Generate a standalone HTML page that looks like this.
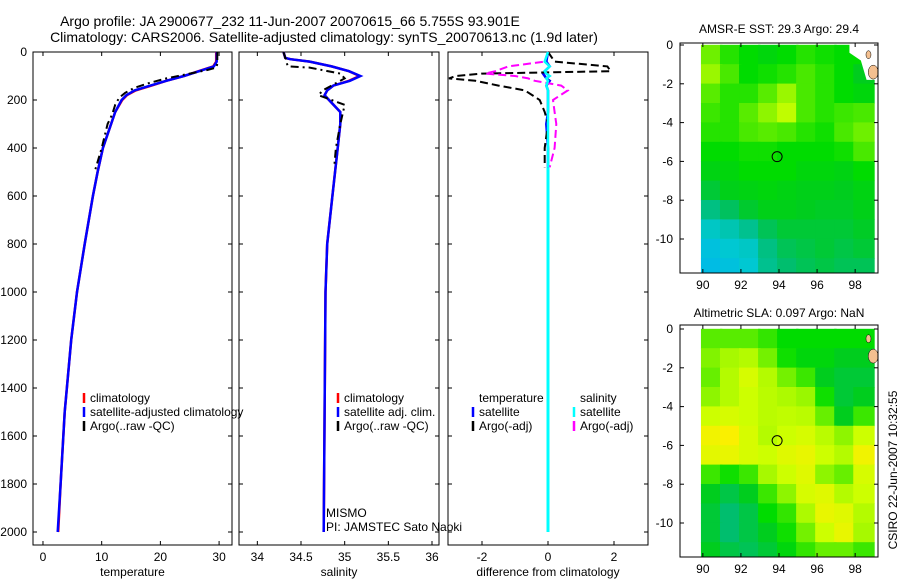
<!DOCTYPE html>
<html><head><meta charset="utf-8"><style>
body{margin:0;background:#fff}
svg{display:block;font-family:"Liberation Sans",sans-serif}
</style></head><body>
<svg id="c" width="900" height="580" viewBox="0 0 900 580" xmlns="http://www.w3.org/2000/svg">
<text x="290" y="26" font-size="14" text-anchor="middle">Argo profile: JA 2900677_232 11-Jun-2007 20070615_66 5.755S 93.901E</text>
<text x="324" y="42" font-size="14" text-anchor="middle">Climatology: CARS2006. Satellite-adjusted climatology: synTS_20070613.nc (1.9d later)</text>
<text x="779" y="33" font-size="12" text-anchor="middle">AMSR-E SST: 29.3 Argo: 29.4</text>
<text x="779" y="317" font-size="12" text-anchor="middle">Altimetric SLA: 0.097 Argo: NaN</text>
<text transform="translate(897,470) rotate(-90)" font-size="12" text-anchor="middle">CSIRO 22-Jun-2007 10:32:55</text>
<g id="g"></g>
</svg>
<script>
// ---- data ----
const tDepth=[0,40,60,80,100,120,140,160,180,200,250,300,400,500,600,800,1000,1200,1500,1800,2000];
const tClim=[29.5,29.5,29.0,26.5,24,21,18.5,15.8,14.3,13.5,12.3,11.6,10.2,9.3,8.5,7.1,5.8,4.8,3.7,3.0,2.6];
const tSat=[29.6,29.6,29.1,26.6,24,21,18.3,15.6,14.2,13.4,12.3,11.6,10.2,9.3,8.5,7.1,5.8,4.8,3.7,3.0,2.5];
const aDepth=[0,50,65,75,90,110,130,150,170,190,220,260,300,400,500];
const tArgo=[29.7,29.7,29.5,28,25,21,18,15.5,14,13,12.3,11.8,11,10,8.8];
const sDepth=[0,25,30,40,60,80,100,120,140,160,180,200,250,300,400,600,800,1000,1500,2000];
const sClim=[34.3,34.32,34.38,34.6,34.85,35.05,35.17,35.05,34.87,34.8,34.77,34.82,34.95,34.95,34.92,34.86,34.8,34.78,34.77,34.76];
const sSat=[34.3,34.32,34.38,34.6,34.85,35.05,35.18,35.06,34.87,34.8,34.77,34.82,34.95,34.95,34.92,34.86,34.8,34.78,34.77,34.76];
const sArgo=[34.3,34.32,34.33,34.33,34.35,34.6,34.95,35.0,34.9,34.75,34.7,34.85,35.0,34.95,34.9,34.88,34.88,34.88,34.88,34.88];
const sArgoDepth=[0,25,30,40,60,65,90,110,130,160,180,200,220,300,400,480,480,480,480,480];
const dDepth=[0,40,60,80,90,100,110,120,140,160,200,250,300,400,480];
const dTsat=[0,-0.05,0.05,-0.1,-0.15,-0.1,-0.05,0.05,-0.05,0,0,0,-0.05,0,0];
const dTargo=[0,0.2,1.8,1.9,-2.0,-2.8,-3.0,-2.2,-1.5,-0.7,-0.25,-0.1,0,-0.1,-0.1];
const dSsat=[0,-0.1,0.05,-0.1,-0.05,0.05,-0.05,0,-0.05,0,0,0,0,0,0];
const dSargo=[0,-0.1,-1.2,-1.6,-1.9,-1.0,-0.6,-0.4,0.4,0.6,0.15,0.2,0.25,0.2,0.05];
const sstGrid=[
[.65,.55,.5,.48,.5,.55,.52,.5,.5],[.72,.6,.5,.52,.55,.6,.55,.5,.45],[.62,.55,.55,.62,.72,.6,.55,.5,.48],
[.58,.55,.62,.7,.78,.6,.55,.58,.6],[.55,.55,.6,.62,.6,.55,.52,.6,.65],[.5,.5,.52,.52,.5,.5,.5,.52,.6],
[.47,.48,.5,.5,.5,.48,.48,.47,.5],[.42,.46,.47,.48,.47,.46,.46,.45,.47],[.32,.37,.43,.46,.46,.45,.44,.44,.46],
[.22,.25,.3,.38,.42,.42,.42,.42,.44],[.15,.2,.22,.32,.38,.4,.42,.4,.42],[.12,.15,.2,.3,.35,.38,.4,.38,.38]];
const slaGrid=[
[.62,.62,.62,.57,.5,.5,.5,.5,.5],[.68,.74,.76,.66,.52,.48,.48,.45,.45],[.64,.76,.82,.76,.66,.58,.45,.42,.42],
[.7,.76,.8,.77,.75,.72,.52,.42,.45],[.8,.82,.8,.77,.78,.77,.64,.45,.58],[.88,.9,.82,.76,.8,.82,.77,.7,.8],
[.85,.86,.82,.8,.84,.86,.8,.76,.88],[.58,.52,.58,.74,.8,.84,.7,.64,.82],[.45,.4,.45,.58,.7,.82,.84,.76,.8],
[.42,.35,.4,.5,.57,.75,.86,.84,.76],[.42,.35,.4,.45,.52,.66,.8,.86,.74],[.45,.4,.38,.42,.48,.57,.64,.64,.58]];
const floatLon=93.901, floatLat=-5.755;
// ---- drawing ----
const NS='http://www.w3.org/2000/svg',G=document.getElementById('g');
function el(t,a,p){const e=document.createElementNS(NS,t);for(const k in a)e.setAttribute(k,a[k]);(p||G).appendChild(e);return e;}
const Y=d=>52+d*0.24;
const panels=[
 {x0:33,x1:232,v0:-1.7,v1:32.2,ticks:[0,10,20,30],lab:'temperature',name:'temperature'},
 {x0:239,x1:439,v0:33.79,v1:36.08,ticks:[34,34.5,35,35.5,36],lab:'salinity',name:'salinity'},
 {x0:448,x1:648,v0:-3.03,v1:3.03,ticks:[-2,0,2],lab:'difference from climatology',name:'difference'}];
panels.forEach(p=>p.X=v=>p.x0+(v-p.v0)/(p.v1-p.v0)*(p.x1-p.x0));
function line(p,vals,deps,col,w,dash,name){
 const d=vals.map((v,i)=>(i?'L':'M')+p.X(v).toFixed(1)+','+Y(deps[i]).toFixed(1)).join('');
 const e=el('path',{d:d,fill:'none',stroke:col,'stroke-width':w});
 if(dash)e.setAttribute('stroke-dasharray',dash);
 
 
}
panels.forEach((p,i)=>{
 const f=el('rect',{x:p.x0,y:52,width:p.x1-p.x0,height:493,fill:'none',stroke:'#000'});
 
 
 p.ticks.forEach(t=>{const x=p.X(t);
  el('line',{x1:x,x2:x,y1:52,y2:56,stroke:'#000'});el('line',{x1:x,x2:x,y1:545,y2:541,stroke:'#000'});
  const tx=el('text',{x:x,y:561,'font-size':12,'text-anchor':'middle'});tx.textContent=String(t);
  
  });
 for(let d=0;d<=2000;d+=200){const y=Y(d);
  el('line',{x1:p.x0,x2:p.x0+4,y1:y,y2:y,stroke:'#000'});el('line',{x1:p.x1,x2:p.x1-4,y1:y,y2:y,stroke:'#000'});
  if(i==0){const tx=el('text',{x:27,y:y+4,'font-size':12,'text-anchor':'end'});tx.textContent=String(d);
   
   }}
 const l=el('text',{x:(p.x0+p.x1)/2,y:576,'font-size':12,'text-anchor':'middle'});l.textContent=p.lab;
 
 
});
const P1=panels[0],P2=panels[1],P3=panels[2];
line(P1,tClim,tDepth,'#f00',2.5,null,'temp-climatology-line');
line(P1,tSat,tDepth,'#00f',2.5,null,'temp-satellite-line');
line(P1,tArgo,aDepth,'#000',2,'8,4,2,4','temp-argo-line');
line(P2,sClim,sDepth,'#f00',2.5,null,'sal-climatology-line');
line(P2,sSat,sDepth,'#00f',2.5,null,'sal-satellite-line');
line(P2,sArgo,sArgoDepth,'#000',2,'8,4,2,4','sal-argo-line');
line(P3,dTsat,dDepth,'#00f',2.5,null,'dtemp-satellite-line');
el('line',{x1:P3.X(0),x2:P3.X(0),y1:Y(480),y2:Y(2000),stroke:'#00f','stroke-width':2.5});
line(P3,dTargo,dDepth,'#000',2,'8,4','dtemp-argo-line');
line(P3,dSargo,dDepth,'#f0f',2,'8,4','dsal-argo-line');
line(P3,dSsat,dDepth,'#0ff',2.5,null,'dsal-satellite-line');
el('line',{x1:P3.X(0),x2:P3.X(0),y1:Y(480),y2:Y(2000),stroke:'#0ff','stroke-width':3});
function legend(x,y,items,name){items.forEach((it,k)=>{
 if(it[0])el('line',{x1:x,x2:x,y1:y+k*14-9,y2:y+k*14+1,stroke:it[0],'stroke-width':2.5});
 const t=el('text',{x:x+6,y:y+k*14,'font-size':12});t.textContent=it[1];
 
 });}
legend(84,402,[['#f00','climatology'],['#00f','satellite-adjusted climatology'],['#000','Argo(..raw -QC)']],'temp-legend');
legend(338,402,[['#f00','climatology'],['#00f','satellite adj. clim.'],['#000','Argo(..raw -QC)']],'sal-legend');
legend(473,402,[[null,'temperature'],['#00f','satellite'],['#000','Argo(-adj)']],'dtemp-legend');
legend(574,402,[[null,'salinity'],['#0ff','satellite'],['#f0f','Argo(-adj)']],'dsal-legend');
const m1=el('text',{x:326,y:517,'font-size':12});m1.textContent='MISMO';


const m2=el('text',{x:326,y:531,'font-size':12});m2.textContent='PI: JAMSTEC Sato Naoki';


// maps
const stops=[[0,[0,170,255]],[.2,[0,200,210]],[.35,[0,190,110]],[.45,[0,205,30]],[.5,[0,220,0]],[.65,[110,240,0]],[.8,[205,255,0]],[.9,[250,240,0]],[1,[255,210,0]]];
function col(v){for(let i=1;i<stops.length;i++)if(v<=stops[i][0]){const a=stops[i-1],b=stops[i],t=(v-a[0])/(b[0]-a[0]);
 return 'rgb('+a[1].map((c,j)=>Math.round(c+(b[1][j]-c)*t)).join(',')+')';}return 'rgb(255,210,0)';}
function map(top,bot,lat0y,grid,name,white){
 const X=l=>680+(l-88.8)/(99.2-88.8)*198,Yl=la=>lat0y-la*19.4;
 const cp=el('clipPath',{id:'cp'+name});el('rect',{x:680,y:top,width:198,height:bot-top},cp);
 const g=el('g',{'clip-path':'url(#cp'+name+')'});
 
 
 grid.forEach((row,r)=>row.forEach((v,c)=>{const lon=90+c;
  const x=Math.max(X(lon-0.1),X(89.9));const cell=el('rect',{x:x,y:Yl(-r)-0.2,width:X(lon+1)-x+0.5,height:19.9,fill:col(v)},g);
  
  }));
 if(white)el('path',{d:`M${X(97.7)},${top}L${X(97.7)},${Yl(-0.4)}L${X(98.3)},${Yl(-0.8)}L${X(98.6)},${Yl(-1.8)}L${X(99.2)},${Yl(-1.8)}L${X(99.2)},${top}Z`,fill:'#fff'},g);
 el('ellipse',{cx:X(98.95),cy:Yl(-1.4),rx:5,ry:7,fill:'#f4c090',stroke:'#000','stroke-width':.5},g);
 el('ellipse',{cx:X(98.7),cy:Yl(-0.5),rx:2.5,ry:4,fill:'#f4c090',stroke:'#000','stroke-width':.5},g);
 const fr=el('rect',{x:680,y:top,width:198,height:bot-top,fill:'none',stroke:'#000'});
 
 
 for(let lo=90;lo<=98;lo+=2){const x=X(lo);el('line',{x1:x,x2:x,y1:top,y2:top+4,stroke:'#000'});el('line',{x1:x,x2:x,y1:bot,y2:bot-4,stroke:'#000'});
  const t=el('text',{x:x,y:bot+16,'font-size':12,'text-anchor':'middle'});t.textContent=String(lo);
  
  }
 for(let la=0;la>=-10;la-=2){const y=Yl(la);el('line',{x1:680,x2:684,y1:y,y2:y,stroke:'#000'});el('line',{x1:878,x2:874,y1:y,y2:y,stroke:'#000'});
  const t=el('text',{x:673,y:y+4,'font-size':12,'text-anchor':'end'});t.textContent=String(la);
  
  }
 const c=el('circle',{cx:X(floatLon),cy:Yl(floatLat),r:5,fill:'none',stroke:'#000'});
 
 
}
map(43,273,45,sstGrid,'sst-map',true);
map(325,557,329,slaGrid,'sla-map',false);
</script>
</body></html>
